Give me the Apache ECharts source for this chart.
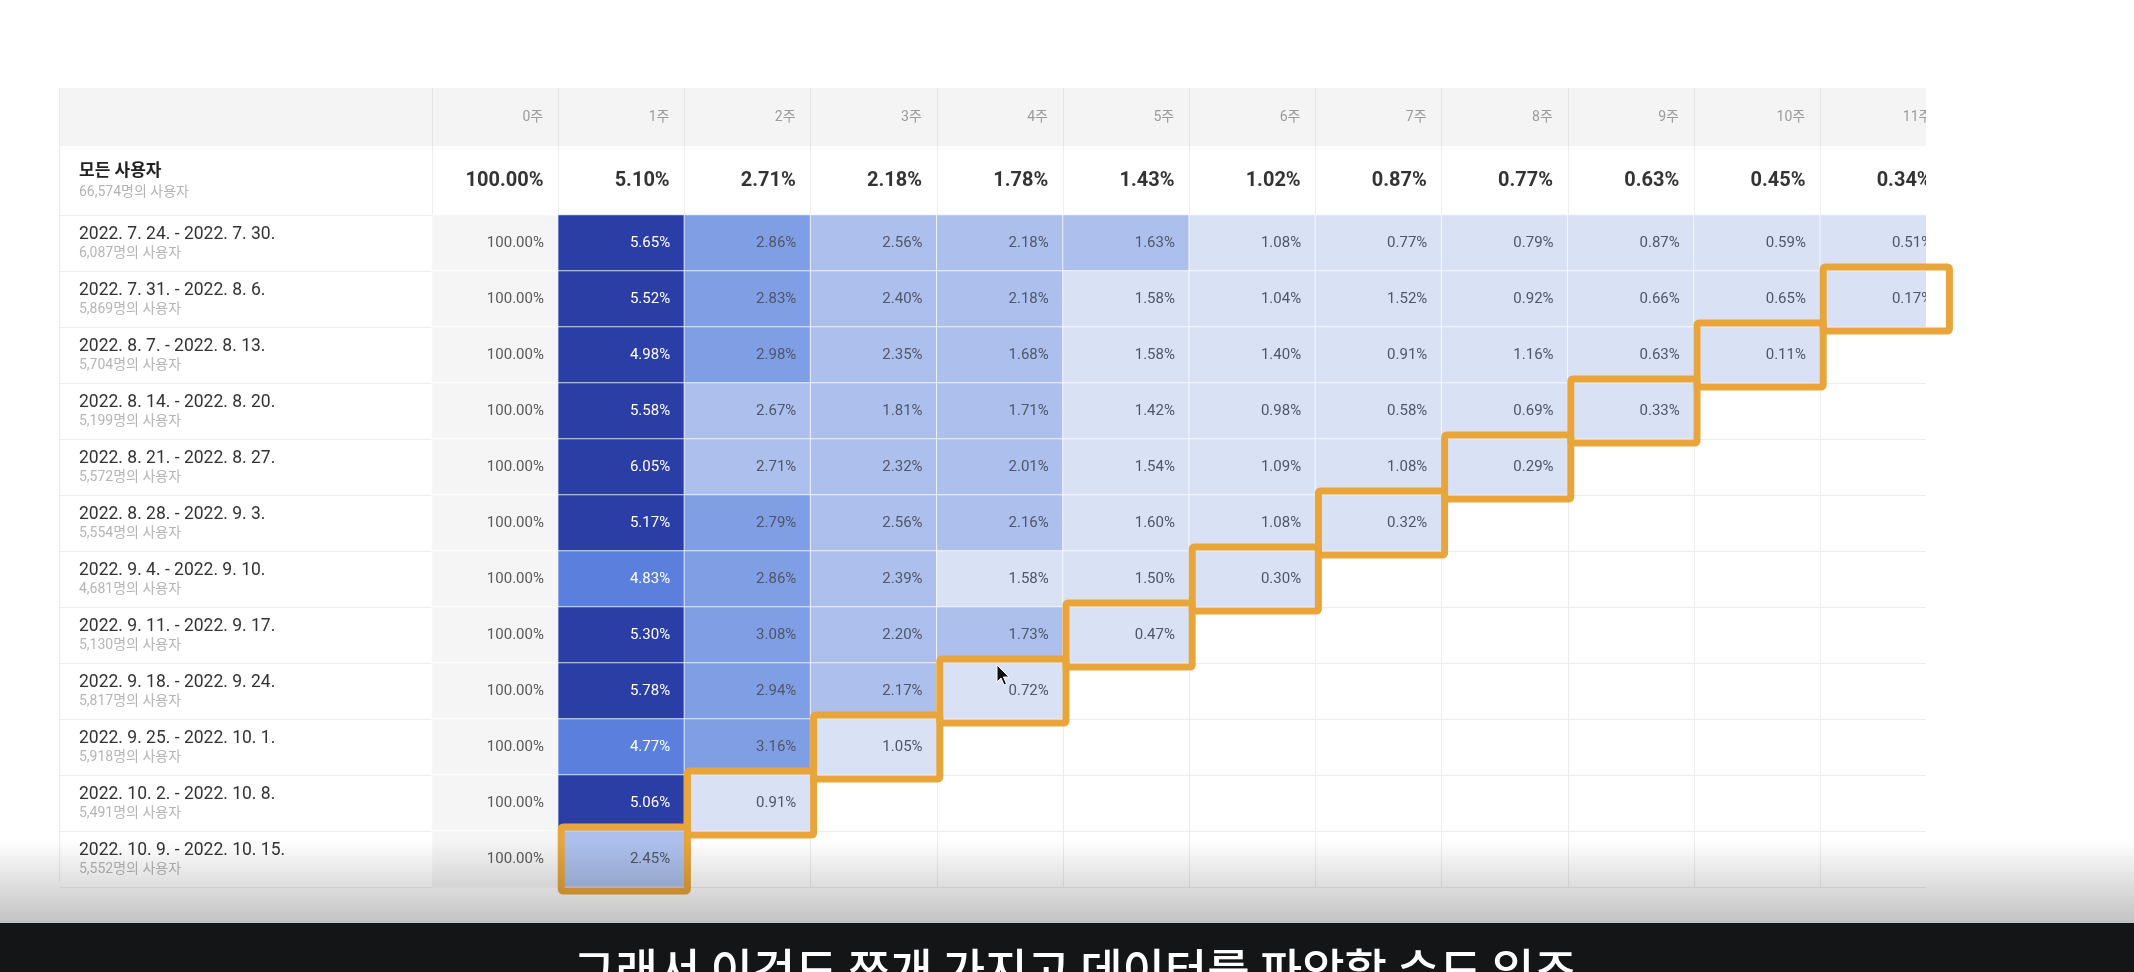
<!DOCTYPE html>
<html>
<head>
<meta charset="utf-8">
<script src="https://cdn.jsdelivr.net/npm/echarts@6/dist/echarts.min.js"></script>
<style>
html,body{margin:0;padding:0;background:#ffffff;}
#chart{width:2134px;height:972px;}
</style>
</head>
<body>
<div id="chart"></div>
<script>
// ---------------- data ----------------
const weekLabels = ['0주','1주','2주','3주','4주','5주','6주','7주','8주','9주','10주','11주'];

const summaryLabel = '모든 사용자';
const summaryUsers = '66,574';
const summaryValues = [100.00, 5.10, 2.71, 2.18, 1.78, 1.43, 1.02, 0.87, 0.77, 0.63, 0.45, 0.34];

const cohortRanges = [
  '2022. 7. 24. - 2022. 7. 30.',
  '2022. 7. 31. - 2022. 8. 6.',
  '2022. 8. 7. - 2022. 8. 13.',
  '2022. 8. 14. - 2022. 8. 20.',
  '2022. 8. 21. - 2022. 8. 27.',
  '2022. 8. 28. - 2022. 9. 3.',
  '2022. 9. 4. - 2022. 9. 10.',
  '2022. 9. 11. - 2022. 9. 17.',
  '2022. 9. 18. - 2022. 9. 24.',
  '2022. 9. 25. - 2022. 10. 1.',
  '2022. 10. 2. - 2022. 10. 8.',
  '2022. 10. 9. - 2022. 10. 15.'
];
const cohortUsers = ['6,087','5,869','5,704','5,199','5,572','5,554','4,681','5,130','5,817','5,918','5,491','5,552'];

const retention = [
  [100.00, 5.65, 2.86, 2.56, 2.18, 1.63, 1.08, 0.77, 0.79, 0.87, 0.59, 0.51],
  [100.00, 5.52, 2.83, 2.40, 2.18, 1.58, 1.04, 1.52, 0.92, 0.66, 0.65, 0.17],
  [100.00, 4.98, 2.98, 2.35, 1.68, 1.58, 1.40, 0.91, 1.16, 0.63, 0.11],
  [100.00, 5.58, 2.67, 1.81, 1.71, 1.42, 0.98, 0.58, 0.69, 0.33],
  [100.00, 6.05, 2.71, 2.32, 2.01, 1.54, 1.09, 1.08, 0.29],
  [100.00, 5.17, 2.79, 2.56, 2.16, 1.60, 1.08, 0.32],
  [100.00, 4.83, 2.86, 2.39, 1.58, 1.50, 0.30],
  [100.00, 5.30, 3.08, 2.20, 1.73, 0.47],
  [100.00, 5.78, 2.94, 2.17, 0.72],
  [100.00, 4.77, 3.16, 1.05],
  [100.00, 5.06, 0.91],
  [100.00, 2.45]
];

const subtitle = '그래서 이것도 쪼개 가지고 데이터를 파악할 수도 있죠';

// ---------------- layout ----------------
const font = "Roboto, 'Noto Sans CJK KR', sans-serif";
const tableLeft = 60, colLeft = 432, colW = 126.2;
const headTop = 88, headH = 58, sumH = 69, rowH = 56, clipX = 1926;
const gridW = colW * weekLabels.length;
const sumTop = headTop + headH;
const dataTop = sumTop + sumH;
const dataH = rowH * cohortRanges.length;
const labelX = 79;

const heatData = [];
retention.forEach((row, r) => row.forEach((v, c) => heatData.push([c, r, v])));
const summaryData = summaryValues.map((v, c) => [c, 0, v]);
const lastCells = retention.slice(1).map((row, i) => [row.length - 1, i + 1]);

const hiddenX = (gi, color) => ({
  type: 'category', gridIndex: gi, data: weekLabels,
  axisLine: {show: false}, axisTick: {show: false}, axisLabel: {show: false},
  splitLine: {show: true, lineStyle: {color: color, width: 1}}
});

const chart = echarts.init(document.getElementById('chart'), null, {renderer: 'canvas'});
chart.setOption({
  backgroundColor: '#ffffff',
  animation: false,
  textStyle: {fontFamily: font},
  grid: [
    {left: colLeft, top: headTop, width: gridW, height: headH},
    {left: colLeft, top: sumTop, width: gridW, height: sumH},
    {left: colLeft, top: dataTop, width: gridW, height: dataH},
    {left: tableLeft, top: dataTop, width: colLeft - tableLeft, height: dataH}
  ],
  xAxis: [
    {
      type: 'category', gridIndex: 0, data: weekLabels, position: 'top',
      axisLine: {show: false}, axisTick: {show: false},
      splitLine: {show: true, lineStyle: {color: '#e4e4e4'}},
      axisLabel: {
        inside: true, margin: 29, verticalAlign: 'middle', interval: 0,
        formatter: v => '{h|' + v + '}',
        rich: {h: {width: colW - 30, align: 'right', fontSize: 14, color: '#9b9b9b', fontFamily: font}}
      }
    },
    hiddenX(1, '#eeeeee'),
    hiddenX(2, '#ececec'),
    {type: 'category', gridIndex: 3, data: [''], show: false}
  ],
  yAxis: [
    {type: 'category', gridIndex: 0, data: [''], show: false},
    {
      type: 'category', gridIndex: 1, data: [summaryLabel],
      axisLine: {show: false}, axisTick: {show: false},
      axisLabel: {
        align: 'left', margin: colLeft - labelX,
        formatter: v => '{a|' + v + '}\n{b|' + summaryUsers + '명의 사용자}',
        rich: {
          a: {fontSize: 17, fontWeight: 'bold', color: '#222222', lineHeight: 24, fontFamily: font},
          b: {fontSize: 14, color: '#b3b3b3', lineHeight: 18, fontFamily: font}
        }
      }
    },
    {
      type: 'category', gridIndex: 2, data: cohortRanges, inverse: true,
      axisLine: {show: false}, axisTick: {show: false},
      splitLine: {show: true, lineStyle: {color: '#ececec'}},
      axisLabel: {
        align: 'left', margin: colLeft - labelX, interval: 0,
        formatter: (v, i) => '{a|' + v + '}\n{b|' + cohortUsers[i] + '명의 사용자}',
        rich: {
          a: {fontSize: 17.5, color: '#333333', lineHeight: 20, fontFamily: font},
          b: {fontSize: 14, color: '#b5b5b5', lineHeight: 16, fontFamily: font}
        }
      }
    },
    {
      type: 'category', gridIndex: 3, data: cohortRanges, inverse: true,
      axisLine: {show: false}, axisTick: {show: false}, axisLabel: {show: false},
      splitLine: {show: true, lineStyle: {color: '#eeeeee'}}
    }
  ],
  visualMap: {
    type: 'piecewise', show: false, seriesIndex: 1, dimension: 2,
    pieces: [
      {min: 99, max: 101, color: '#f5f5f5'},
      {min: 4.9, max: 99, color: '#2b3ea6'},
      {min: 4.0, max: 4.9, color: '#5a7fdc'},
      {min: 2.75, max: 4.0, color: '#809ee3'},
      {min: 1.62, max: 2.75, color: '#adc0ed'},
      {min: 0, max: 1.62, color: '#d9e1f5'}
    ]
  },
  series: [
    {
      type: 'heatmap', xAxisIndex: 1, yAxisIndex: 1, data: summaryData, z: 2,
      itemStyle: {color: 'rgba(0,0,0,0)'},
      emphasis: {disabled: true},
      label: {
        show: true, position: 'insideRight', distance: 15,
        formatter: p => p.value[2].toFixed(2) + '%',
        fontSize: 20, fontWeight: 'bold', color: '#333333', fontFamily: font
      }
    },
    {
      type: 'heatmap', xAxisIndex: 2, yAxisIndex: 2, data: heatData, z: 2,
      itemStyle: {borderColor: 'rgba(255,255,255,0.75)', borderWidth: 1},
      emphasis: {disabled: true},
      label: {
        show: true, position: 'insideRight', distance: 15, fontSize: 15,
        formatter: p => {
          const v = p.value[2];
          const k = v >= 99 ? 'z' : (v >= 4 ? 'w' : 'd');
          return '{' + k + '|' + v.toFixed(2) + '%}';
        },
        rich: {
          w: {color: '#ffffff', fontSize: 15, fontFamily: font},
          d: {color: '#4f5667', fontSize: 15, fontFamily: font},
          z: {color: '#5a5a5a', fontSize: 15, fontFamily: font}
        }
      }
    },
    {
      type: 'custom', xAxisIndex: 2, yAxisIndex: 2, data: lastCells, z: 20, clip: false, silent: true,
      renderItem: (params, api) => {
        const c = api.coord([api.value(0), api.value(1)]);
        const s = api.size([1, 1]);
        return {
          type: 'rect',
          shape: {x: c[0] - s[0] / 2 + 3, y: c[1] - s[1] / 2 - 4, width: s[0], height: s[1] + 8, r: 2},
          style: {fill: 'none', stroke: '#e8a53c', lineWidth: 7}
        };
      }
    }
  ],
  graphic: [
    {type: 'rect', z: -10, silent: true, shape: {x: tableLeft, y: headTop, width: clipX - tableLeft, height: headH}, style: {fill: '#f4f4f4'}},
    {type: 'line', z: -5, silent: true, shape: {x1: tableLeft - 0.5, y1: headTop, x2: tableLeft - 0.5, y2: dataTop + dataH - 6}, style: {stroke: '#e9e9e9', lineWidth: 1}},
    {type: 'rect', z: 10, silent: true, shape: {x: clipX, y: 60, width: 2134 - clipX, height: 860}, style: {fill: '#ffffff'}},
    {type: 'polygon', z: 25, silent: true, shape: {points: [[997,665],[997,682],[1001,678],[1004,685],[1006.5,684],[1003.5,677],[1009,677]]}, style: {fill: '#111111', stroke: '#ffffff', lineWidth: 1}},
    {type: 'rect', z: 30, silent: true, shape: {x: 0, y: 840, width: 2134, height: 83},
      style: {fill: new echarts.graphic.LinearGradient(0, 0, 0, 1, [{offset: 0, color: 'rgba(0,0,0,0)'}, {offset: 1, color: 'rgba(0,0,0,0.24)'}])}},
    {type: 'rect', z: 31, silent: true, shape: {x: 0, y: 923, width: 2134, height: 49}, style: {fill: '#141517'}},
    {type: 'text', z: 32, silent: true, x: 1075, y: 970,
      style: {text: subtitle, fill: '#ffffff', font: "500 46px 'Noto Sans CJK KR', sans-serif", align: 'center', verticalAlign: 'middle'}}
  ]
});
</script>
</body>
</html>
